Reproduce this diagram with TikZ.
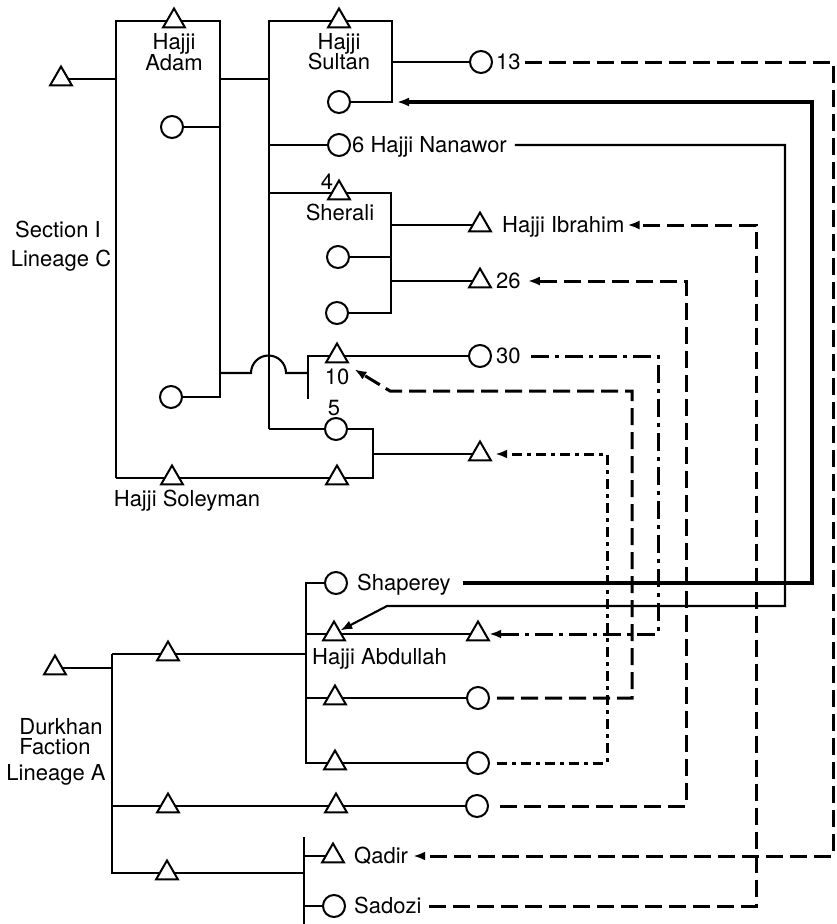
\documentclass[tikz,border=0pt]{standalone}
\usepackage{fontspec}
\setmainfont{TeX Gyre Heros}
\usetikzlibrary{shapes.geometric,arrows.meta,backgrounds}
\pgfdeclarelayer{links}
\pgfsetlayers{background,links,main}
\begin{document}
\begin{tikzpicture}[x=1pt,y=-1pt,
  conn/.style={line width=2.1pt},
  heavy/.style={line width=4.2pt},
  tri/.style={regular polygon,regular polygon sides=3,draw,fill=white,line width=2pt,minimum size=25pt,inner sep=0pt,outer sep=0pt},
  circ/.style={circle,draw,fill=white,line width=2pt,minimum size=22pt,inner sep=0pt,outer sep=0pt},
  lab/.style={inner sep=0pt,text height=15pt,text depth=0pt,font=\fontsize{22}{24}\selectfont},
  arr/.style={-{Latex[length=12pt,width=9pt]}},
  dsh/.style={line width=3pt,dash pattern=on 17pt off 7pt},
  dshdot/.style={line width=3pt,dash pattern=on 18pt off 6pt on 4pt off 6pt},
  dshdotdot/.style={line width=3pt,dash pattern=on 10pt off 5pt on 4pt off 5pt}]
\useasboundingbox (0,0) rectangle (836,924);

% ---------- Section I, Lineage C ----------
\node[tri] (tS) at (61,79) {};
\node[tri] (tAdam) at (174,21) {};
\node[circ] (cAdamD) at (172,127) {};
\node[circ] (cAdamD2) at (171,397) {};
\node[tri] (tSultan) at (339,21) {};
\node[circ] (cSultanD) at (339,102) {};
\node[circ] (c13) at (481,62) {};
\node[circ] (c6) at (339,145) {};
\node[tri] (tSherali) at (339,193) {};
\node[tri] (tIbr) at (480,225) {};
\node[circ] (cSh1) at (338,257) {};
\node[circ] (cSh2) at (337,313) {};
\node[tri] (t26) at (480,281) {};
\node[tri] (t10) at (337,356) {};
\node[circ] (c30) at (480,356) {};
\node[circ] (c5) at (336,429) {};
\node[tri] (tX) at (480,454) {};
\node[tri] (tSol) at (172,478) {};
\node[tri] (tSol2) at (337,478) {};

\coordinate (aTL) at (116,21);
\coordinate (aTR) at (220,21);
\coordinate (aBL) at (116,478);
\coordinate (aRB) at (220,397);
\coordinate (aBm) at (220,373);
\coordinate (sTL) at (269,21);
\coordinate (sTR) at (392,21);
\coordinate (sRB) at (392,102);
\coordinate (sVB) at (269,429);
\coordinate (hTL) at (269,193);
\coordinate (hTR) at (391,193);
\coordinate (hRB) at (391,313);
\coordinate (cR) at (373,429);
\coordinate (cRB) at (373,478);
\coordinate (bL) at (251,373);
\coordinate (v10T) at (308,356);
\coordinate (v10B) at (308,399);
\coordinate (kAbd) at (387,606);
\coordinate (k10) at (390,391);
\coordinate (xA) at (607,0);
\coordinate (xB) at (632,0);
\coordinate (xC) at (658,0);
\coordinate (xD) at (686,0);
\coordinate (xE) at (756,0);
\coordinate (xF) at (785,0);
\coordinate (xG) at (812,0);
\coordinate (xH) at (833,0);

% ---------- Durkhan Faction, Lineage A ----------
\node[tri] (tD) at (55,668) {};
\node[tri] (tD1) at (168,654) {};
\node[circ] (cShap) at (336,583) {};
\node[tri] (tAbd) at (334,634) {};
\node[tri] (tAbd2) at (478,634) {};
\node[tri] (tR3) at (335,698) {};
\node[circ] (cR3) at (478,698) {};
\node[tri] (tR4) at (335,763) {};
\node[circ] (cR4) at (478,763) {};
\node[tri] (tR5a) at (168,806) {};
\node[tri] (tR5b) at (336,806) {};
\node[circ] (cR5) at (477,806) {};
\node[tri] (tR6) at (167,873) {};
\node[tri] (tQ) at (333,856) {};
\node[circ] (cSad) at (334,906) {};
\coordinate (dVT) at (112,654);
\coordinate (dVB) at (112,873);
\coordinate (aVT) at (306,583);
\coordinate (aVB) at (306,763);
\coordinate (qVT) at (304,837);
\coordinate (qVB) at (304,924);

% ---------- labels ----------
\node[lab] (lAdam1) at (174,42) {Hajji};
\node[lab] (lAdam2) at (174,63) {Adam};
\node[lab] (lSul1) at (339,42) {Hajji};
\node[lab] (lSul2) at (339,62) {Sultan};
\node[lab] (lSher) at (340,213) {Sherali};
\node[lab] (l4) at (327,182) {4};
\node[lab] (l10) at (337,377) {10};
\node[lab] (l5) at (334,408) {5};
\node[lab,anchor=west] (l13) at (496,62) {13};
\node[lab,anchor=west] (l6) at (352,145) {6 Hajji Nanawor};
\node[lab,anchor=west] (lIbr) at (502,225) {Hajji Ibrahim};
\node[lab,anchor=west] (l26) at (496,281) {26};
\node[lab,anchor=west] (l30) at (496,356) {30};
\node[lab] (lSol) at (187,499) {Hajji Soleyman};
\node[lab] (lSec1) at (58,230) {Section I};
\node[lab] (lSec2) at (61,259) {Lineage C};
\node[lab,anchor=west] (lShap) at (357,583) {Shaperey};
\node[lab,anchor=west] (lAbd) at (312,657) {Hajji Abdullah};
\node[lab] (lDur1) at (61,727) {Durkhan};
\node[lab] (lDur2) at (55,747) {Faction};
\node[lab] (lDur3) at (56,773) {Lineage A};
\node[lab,anchor=west] (lQ) at (354,856) {Qadir};
\node[lab,anchor=west] (lSad) at (354,906) {Sadozi};

% ---------- genealogical lines ----------
\begin{pgfonlayer}{background}
\fill[white] (0,0) rectangle (836,924);
\draw[conn] (tS) -- (tS -| aTL);
\draw[conn] (aBL) -- (aTL) -- (aTR) -- (aRB) -- (cAdamD2);
\draw[conn] (cAdamD) -- (cAdamD -| aTR);
\draw[conn] (tS -| aTR) -- (tS -| sTL);
\draw[conn] (sVB) -- (sTL) -- (sTR) -- (sRB) -- (cSultanD);
\draw[conn] (c13 -| sTR) -- (c13);
\draw[conn] (c6 -| sTL) -- (c6);
\draw[conn] (hTL) -- (hTR) -- (hRB) -- (cSh2);
\draw[conn] (cSh1) -- (cSh1 -| hTR);
\draw[conn] (tIbr -| hTR) -- (tIbr);
\draw[conn] (t26 -| hTR) -- (t26);
\draw[conn] (aBm) -- (bL) arc[start angle=180,end angle=0,radius=17.5pt] -- (aBm -| v10T);
\draw[conn] (v10B) -- (v10T) -- (c30);
\draw[conn] (sVB) -- (cR) -- (cRB) -- (aBL);
\draw[conn] (tX -| cR) -- (tX);
\draw[conn] (tD) -- (tD -| dVT);
\draw[conn] (dVT) -- (dVB) -- (dVB -| qVT);
\draw[conn] (dVT) -- (dVT -| aVT);
\draw[conn] (cShap) -- (aVT) -- (aVB) -- (cR4);
\draw[conn] (tAbd -| aVT) -- (tAbd2);
\draw[conn] (tR3 -| aVT) -- (cR3);
\draw[conn] (tR5a -| dVT) -- (cR5);
\draw[conn] (qVT) -- (qVB);
\draw[conn] (tQ -| qVT) -- (tQ);
\draw[conn] (cSad -| qVT) -- (cSad);
\end{pgfonlayer}

% ---------- marriage exchange connectors ----------
\begin{pgfonlayer}{links}
\draw[dshdotdot,arr] ([xshift=8pt]cR4.east) -- (cR4 -| xA) -- (tX -| xA) -- ([xshift=8pt]tX.east);
\draw[dshdot,arr] ([xshift=10pt]l30.east) -- (l30.east -| xC) -- (tAbd2 -| xC) -- ([xshift=4pt]tAbd2.east);
\draw[dsh,arr] ([xshift=4pt]l13.east) -- (l13.east -| xH) -- (tQ -| xH) -- ([xshift=5pt]lQ.east);
\draw[conn,arr,shorten >=1pt] ([xshift=8pt]l6.east) -- (l6.east -| xF) -- (kAbd -| xF) -- (kAbd) -- (tAbd.side 3);
\draw[dsh,arr] ([xshift=7pt]lSad.east) -- (cSad -| xE) -- (tIbr -| xE) -- ([xshift=3pt]lIbr.east);
\draw[dsh,arr] ([xshift=12pt]cR5.east) -- (cR5 -| xD) -- (t26 -| xD) -- ([xshift=7pt]l26.east);
\draw[dsh,arr] ([xshift=8pt]cR3.east) -- (cR3 -| xB) -- (k10 -| xB) -- (k10) -- ([xshift=5pt]l10.north east);
\draw[heavy,arr] ([xshift=12pt]lShap.east) -- (cShap -| xG) -- (cSultanD -| xG) -- ([xshift=5pt]sRB);
\end{pgfonlayer}
\end{tikzpicture}
\end{document}
